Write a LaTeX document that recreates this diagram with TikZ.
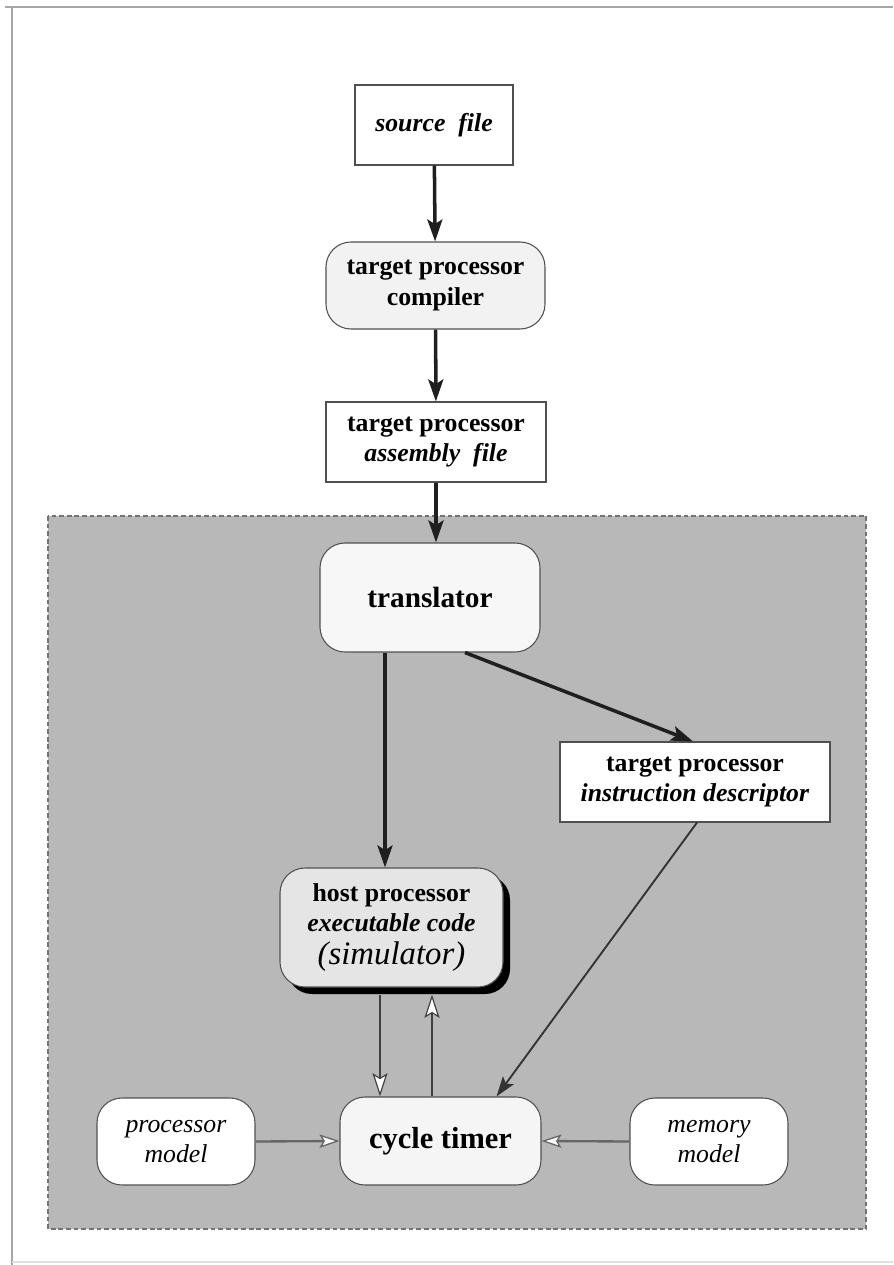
\documentclass[tikz,border=0pt]{standalone}
\usepackage{fontspec}
\setmainfont{Liberation Serif}
\usetikzlibrary{arrows.meta,calc}
\definecolor{panelgray}{HTML}{B8B8B8}
\definecolor{edgegray}{HTML}{505050}
\begin{document}
\begin{tikzpicture}[x=0.03cm,y=-0.03cm,
  txt/.style={font=\fontsize{22}{26}\selectfont, align=center, inner sep=0pt},
  filebox/.style={txt, draw=edgegray, line width=0.9pt, fill=white},
  procbox/.style={txt, draw=edgegray, line width=0.9pt, rounded corners=0.75cm},
  flow/.style={line width=3pt, black!88, -{Stealth[length=0.66cm,width=0.45cm,inset=0.14cm]}},
  thinflow/.style={line width=1.6pt, black!80, -{Stealth[length=0.6cm,width=0.4cm,inset=0.12cm]}},
  openflow/.style={line width=1pt, black!75, -{Stealth[open,fill=white,length=0.7cm,width=0.45cm,inset=0.14cm,line width=1pt]}},
  sideflow/.style={line width=2pt, black!60, -{Stealth[open,fill=white,length=0.6cm,width=0.4cm,inset=0.12cm,line width=1.1pt]}}
]
\useasboundingbox (0,0) rectangle (893,1265);

% page frame
\draw[black!35, line width=1.2pt] (5,7) -- (893,7);
\draw[black!35, line width=1.2pt] (12,8) -- (12,1265);
\draw[black!12, line width=1pt] (12,1262) -- (893,1262);

% simulation environment panel
\draw[fill=panelgray, draw=black!55, line width=1.2pt, dash pattern=on 4pt off 2.5pt]
  (48,516) rectangle (866,1229);

% nodes
\node[filebox, minimum width=4.74cm, minimum height=2.4cm] (src) at (434,125)
  {\textbf{\textit{source\ \ file}}};
\node[procbox, fill=black!5, minimum width=6.57cm, minimum height=2.61cm] (comp) at (435.5,285.5)
  {\textbf{target processor}\\\textbf{compiler}};
\node[filebox, minimum width=6.6cm, minimum height=2.4cm] (asm) at (436,442)
  {\textbf{target processor}\\\textbf{\textit{assembly\ \ file}}};
\node[procbox, fill=black!3, minimum width=6.6cm, minimum height=3.27cm,
      font=\fontsize{25}{30}\selectfont] (trans) at (430,597.5)
  {\textbf{translator}};
\node[filebox, minimum width=8.1cm, minimum height=2.4cm] (desc) at (695,782)
  {\textbf{target processor}\\\textbf{\textit{instruction descriptor}}};
\fill[black, rounded corners=0.75cm] (287,875) rectangle (510,994);
\node[procbox, fill=black!10, minimum width=6.69cm, minimum height=3.57cm] (host) at (391.5,927.5)
  {\textbf{host processor}\\\textbf{\textit{executable code}}\\[2pt]
   {\fontsize{28}{30}\selectfont\textit{(simulator)}}};
\node[procbox, fill=black!4, minimum width=6.03cm, minimum height=2.64cm,
      font=\fontsize{26}{30}\selectfont] (cyc) at (440.5,1141)
  {\textbf{cycle timer}};
\node[procbox, fill=white, minimum width=4.74cm, minimum height=2.61cm] (pm) at (176,1141.5)
  {\textit{processor}\\\textit{model}};
\node[procbox, fill=white, minimum width=4.74cm, minimum height=2.61cm] (mm) at (709,1141.5)
  {\textit{memory}\\\textit{model}};

% connectors
\draw[flow] (src) -- (comp);
\draw[flow] (comp) -- (asm);
\draw[flow] (asm.south) -- (asm.south |- trans.north);
\draw[flow] ($(trans.south)+(-45,0)$) -- ($(host.north)+(-6.5,0)$);
\draw[flow] ($(trans.south)+(35,0)$) -- ($(desc.north)+(-2,0)$);
\draw[thinflow] ($(desc.south)+(2,0)$) -- ($(cyc.north)+(56,0)$);
\draw[openflow] ($(host.south)+(-11.5,7)$) -- ($(cyc.north)+(-60.5,0)$);
\draw[openflow] ($(cyc.north)+(-8.5,0)$) -- ($(host.south)+(40.5,7)$);
\draw[sideflow] (pm.east) -- (cyc.west);
\draw[sideflow] (mm.west) -- (cyc.east);
\end{tikzpicture}
\end{document}
